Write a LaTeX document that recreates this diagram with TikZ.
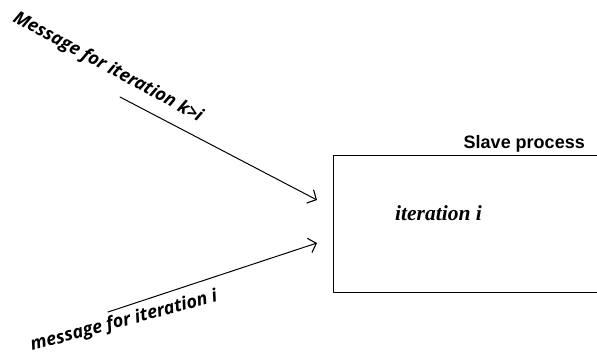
\documentclass[tikz,border=0pt]{standalone}
\usepackage{fontspec}
\newfontfamily\msgfont{Open Sans}
\newfontfamily\procfont{Liberation Sans}
\newfontfamily\iterfont{Liberation Serif}
\usepackage{tikz}
\usetikzlibrary{arrows.meta}
\usetikzlibrary{positioning}

\begin{document}
\begin{tikzpicture}[x=1pt, y=-1pt, line cap=round, line join=round,
    msg/.style={line width=1pt, -{Straight Barb[length=7pt,width=15pt,line width=1.1pt]}},
    msglabel/.style={font=\msgfont\bfseries\itshape\fontsize{18}{20}\selectfont, inner sep=0pt, anchor=base west},
    procbox/.style={draw, line width=1pt, rectangle, minimum width=320pt, minimum height=137pt, anchor=north west, inner sep=0pt}]
  \useasboundingbox (0,0) rectangle (597,354);
  \clip (0,0) rectangle (597,354);
  %--- Nodes
    \node[procbox] (slave) at (333,155) {};
    \node[font=\procfont\bfseries\fontsize{18}{20}\selectfont, inner sep=0pt, anchor=base east] (title) at (585,148) {Slave process};
    \node[font=\iterfont\bfseries\itshape\fontsize{21.5}{24}\selectfont, inner sep=0pt, anchor=base west] (iter) at (395,220) {iteration i};
    \node[msglabel, rotate=-28.5] (later) at (12,21) {Message for iteration k>i};
    \node[msglabel, rotate=15] (current) at (32,351) {message for iteration i};
    \coordinate (laterstart) at (120,97);
    \coordinate (laterend) at (317,200);
    \coordinate (curstart) at (108,312);
    \coordinate (curend) at (317,243);
  %--- Arrows
    \draw[msg] (laterstart) -- (laterend);
    \draw[msg] (curstart) -- (curend);
  %---
\end{tikzpicture}
\end{document}
